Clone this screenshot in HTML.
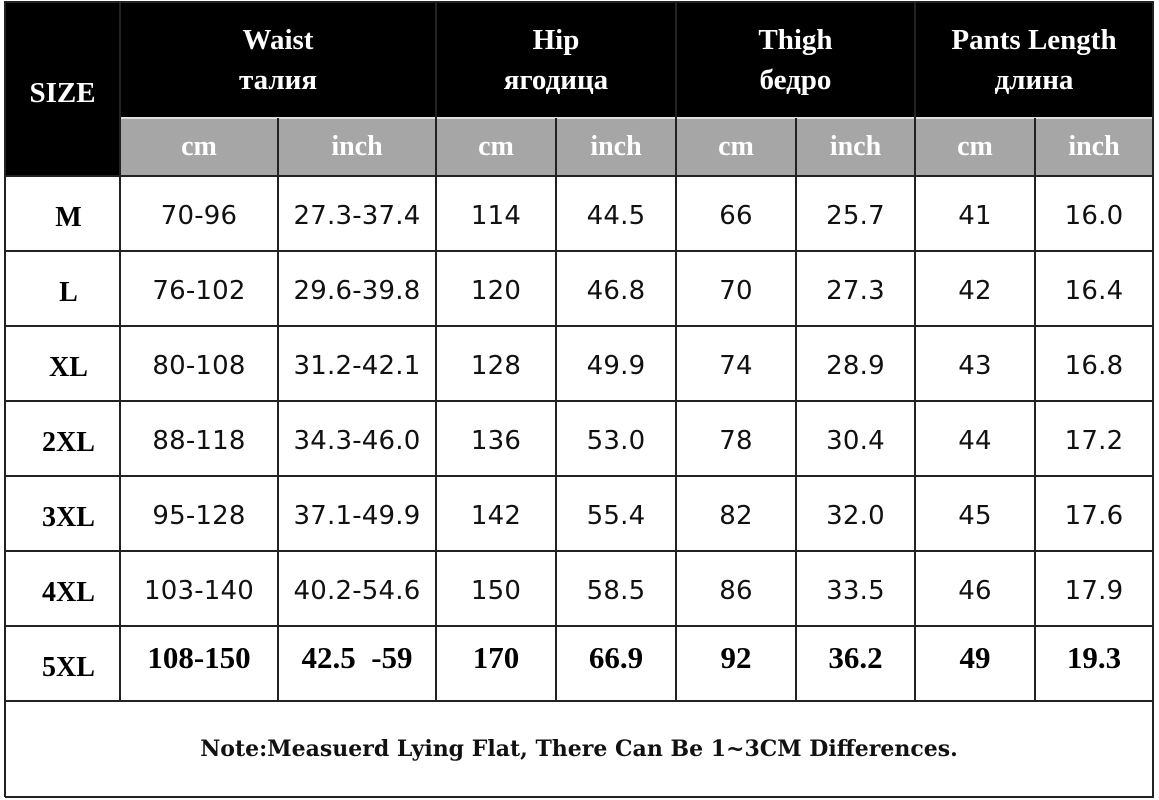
<!DOCTYPE html>
<html><head><meta charset="utf-8"><style>
body{margin:0;width:1159px;height:800px;background:#fff;position:relative;overflow:hidden}
.c{position:absolute;display:flex;align-items:center;justify-content:center;box-sizing:border-box;text-align:center}
.h{background:#000;color:#fff;font:bold 29px/40px "Liberation Serif","DejaVu Serif",serif}
.g{background:#a6a6a6;color:#fff;font:bold 28px "Liberation Serif",serif}
.d{font:26px "DejaVu Sans","Liberation Sans",sans-serif;color:#111;letter-spacing:0.2px}
.s{font:bold 28px "Liberation Serif",serif;color:#000}
.b{font:bold 31px "Liberation Serif",serif;color:#000}
.vl{position:absolute;width:2px;background:#222}
.hl{position:absolute;height:2px;background:#222}
</style></head><body>
<div class="c h" style="left:5px;top:2px;width:115px;height:174px;padding-top:8px">SIZE</div>
<div class="c h" style="left:120px;top:2px;width:316px;height:116px">Waist<br>талия</div>
<div class="c h" style="left:436px;top:2px;width:240px;height:116px">Hip<br>ягодица</div>
<div class="c h" style="left:676px;top:2px;width:239px;height:116px">Thigh<br>бедро</div>
<div class="c h" style="left:915px;top:2px;width:238px;height:116px">Pants Length<br>длина</div>
<div class="c g" style="left:120px;top:118px;width:158px;height:58px">cm</div>
<div class="c g" style="left:278px;top:118px;width:158px;height:58px">inch</div>
<div class="c g" style="left:436px;top:118px;width:120px;height:58px">cm</div>
<div class="c g" style="left:556px;top:118px;width:120px;height:58px">inch</div>
<div class="c g" style="left:676px;top:118px;width:120px;height:58px">cm</div>
<div class="c g" style="left:796px;top:118px;width:119px;height:58px">inch</div>
<div class="c g" style="left:915px;top:118px;width:120px;height:58px">cm</div>
<div class="c g" style="left:1035px;top:118px;width:118px;height:58px">inch</div>
<div style="position:absolute;left:120px;top:117px;width:1033px;height:2px;background:#ddd"></div>
<div id="rows"></div>
<script>
var xs=[5,120,278,436,556,676,796,915,1035,1153];
var ys=[176,251,326,401,476,551,626,701];
var data=[["M","70-96","27.3-37.4","114","44.5","66","25.7","41","16.0"],
["L","76-102","29.6-39.8","120","46.8","70","27.3","42","16.4"],
["XL","80-108","31.2-42.1","128","49.9","74","28.9","43","16.8"],
["2XL","88-118","34.3-46.0","136","53.0","78","30.4","44","17.2"],
["3XL","95-128","37.1-49.9","142","55.4","82","32.0","45","17.6"],
["4XL","103-140","40.2-54.6","150","58.5","86","33.5","46","17.9"],
["5XL","108-150","42.5 &nbsp;-59","170","66.9","92","36.2","49","19.3"]];
var h="";
for(var r=0;r<7;r++){for(var c=0;c<9;c++){
var cls=c==0?"s":(r==6?"b":"d");
var pad=c==0?"padding-left:12px;":"";
var yy=ys[r]+((r==6&&c>0)?-6:(c==0?4:2));
h+='<div class="c '+cls+'" style="'+pad+'left:'+xs[c]+'px;top:'+yy+'px;width:'+(xs[c+1]-xs[c])+'px;height:75px">'+data[r][c]+'</div>';}}
h+='<div class="c" style="left:5px;top:701px;width:1148px;height:96px;font:bold 22px \'DejaVu Serif\',serif;color:#111">Note:Measuerd Lying Flat, There Can Be 1~3CM Differences.</div>';
for(var i=0;i<ys.length;i++)h+='<div class="hl" style="left:5px;top:'+(ys[i]-1)+'px;width:1149px"></div>';
h+='<div class="hl" style="left:5px;top:796px;width:1149px"></div>';
h+='<div class="hl" style="left:5px;top:1px;width:1149px"></div>';
for(var j=0;j<xs.length;j++){var t=(j==0||j==9)?1:(j==1?1:(j%2==1?1:118));var bt=(j==0||j==9)?797:701;h+='<div class="vl" style="left:'+(xs[j]-1)+'px;top:'+t+'px;height:'+(bt-t)+'px"></div>';}
document.getElementById("rows").innerHTML=h;
</script>
</body></html>
